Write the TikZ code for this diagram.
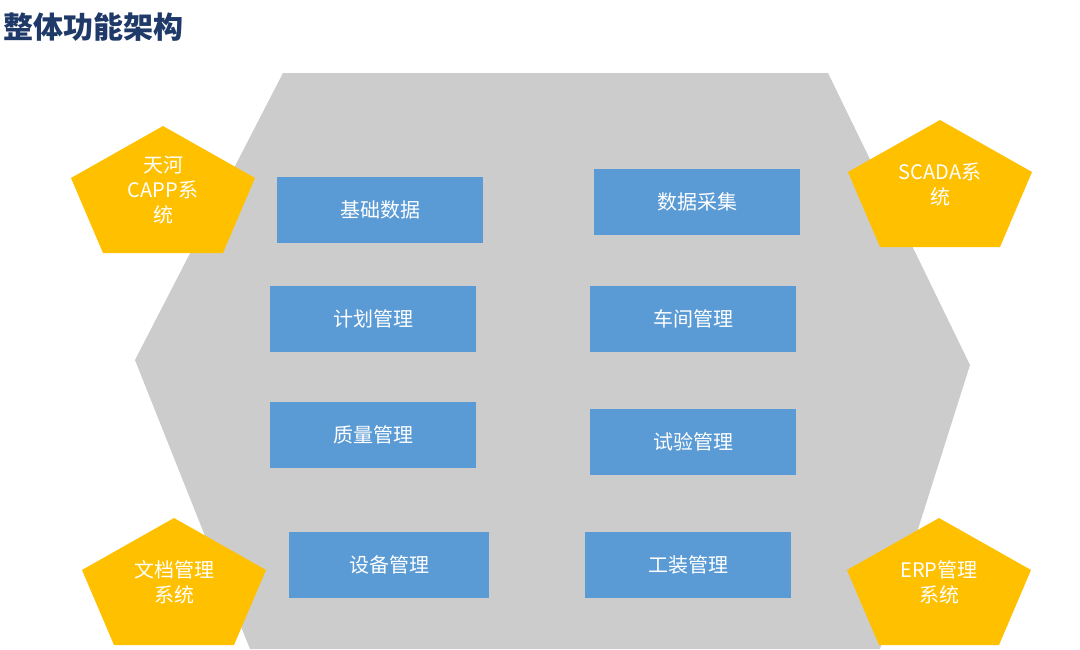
\documentclass[tikz,border=0pt]{standalone}
\usepackage{fontspec}
\setmainfont{Noto Sans CJK SC}
\usetikzlibrary{positioning}
\definecolor{modblue}{HTML}{5B9BD5}
\definecolor{sysgold}{HTML}{FFC000}
\definecolor{titleblue}{HTML}{1F3A68}
\newcommand{\syspent}[4]{% x, y, name, text
  \fill[sysgold] (#1,#2-64) -- (#1+92,#2-12) -- (#1+60,#2+63) -- (#1-60,#2+63) -- (#1-92,#2-12) -- cycle;
  \node[systext] (#3) at (#1,#2) {#4};}
\begin{document}
\begin{tikzpicture}
      [x=1pt,y=-1pt,
       module/.style={rectangle,fill=modblue,text=white,minimum width=206pt,minimum height=66pt,font=\fontsize{20}{24}\selectfont},
       systext/.style={text=white,align=center,text width=120pt,font=\fontsize{20}{25}\selectfont}]
      \useasboundingbox[fill=white] (0,0) rectangle (1080,649) ;
      \node[anchor=west,text=titleblue,font=\bfseries\fontsize{30}{34}\selectfont] (title) at (0,27) {整体功能架构} ;
      % gray frame
      \fill[gray!40] (283,73) -- (828,73) -- (970,365) -- (880,649) -- (250,649) -- (135,360) -- cycle ;
      % modules
      \node[module] (jichu) at (380,210) {基础数据} ;
      \node[module] (caiji) at (697,202) {数据采集} ;
      \node[module] (jihua) at (373,319) {计划管理} ;
      \node[module] (chejian) at (693,319) {车间管理} ;
      \node[module] (zhiliang) at (373,435) {质量管理} ;
      \node[module] (shiyan) at (693,442) {试验管理} ;
      \node[module,minimum width=200pt] (shebei) at (389,565) {设备管理} ;
      \node[module] (gongzhuang) at (688,565) {工装管理} ;
      % outer systems
      \syspent{163}{190}{capp}{天河\\CAPP系\\统}
      \syspent{940}{184}{scada}{SCADA系\\统}
      \syspent{174}{582}{wendang}{文档管理\\系统}
      \syspent{939}{582}{erp}{ERP管理\\系统}
\end{tikzpicture}
\end{document}
